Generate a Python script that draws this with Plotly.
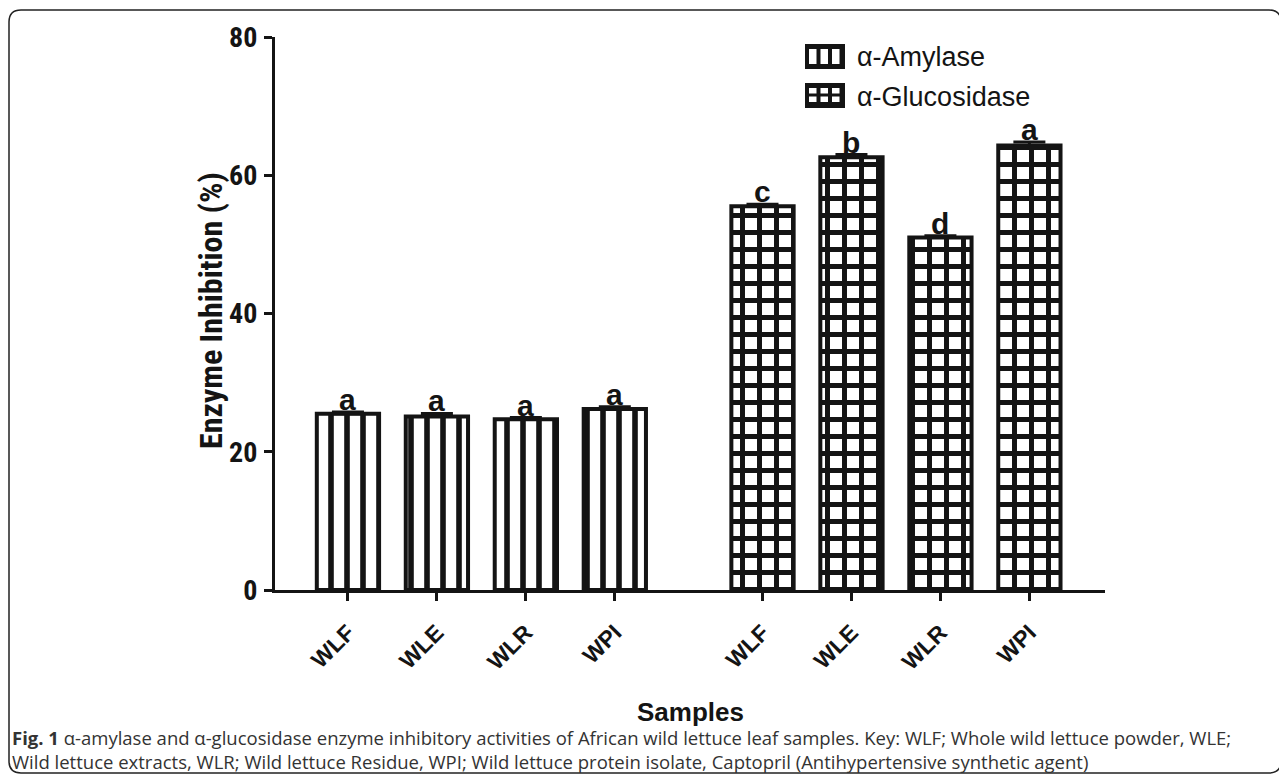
import plotly.graph_objects as go

# ---- data ----
samples = ["WLF", "WLE", "WLR", "WPI"]
amylase = [25.5, 25.1, 24.7, 26.2]
amylase_err = [0.25, 0.45, 0.25, 0.3]
amylase_letters = ["a", "a", "a", "a"]
glucosidase = [55.5, 62.6, 51.0, 64.3]
glucosidase_err = [0.3, 0.4, 0.25, 0.5]
glucosidase_letters = ["c", "b", "d", "a"]
series_names = ["α-Amylase", "α-Glucosidase"]
y_ticks = [0, 20, 40, 60, 80]

# ---- layout geometry (reference pixels) ----
W, H = 1287, 774
OFF = 8  # page body margin of the html page
L, R, T, B = 275, 1105, 37, 590
GAP = 1.66
x1 = [i for i in range(len(samples))]
x2 = [i + len(samples) - 1 + GAP for i in range(len(samples))]

def px(x):
    return (x - L) / (R - L)

def py(y):
    return (B - y) / (B - T)

INK = "#141414"
FONT = "Liberation Sans, Arial, Helvetica, sans-serif"
NARROW = "Liberation Sans Narrow, Arial Narrow, Roboto Condensed, sans-serif"

fig = go.Figure()
fig.add_trace(go.Bar(
    x=x1, y=amylase, name=series_names[0], width=0.7,
    marker=dict(color="white", line=dict(color=INK, width=4),
                pattern=dict(shape="|", fgcolor=INK, bgcolor="white", fgopacity=1,
                             size=16, solidity=0.35)),
    error_y=dict(type="data", array=amylase_err, color=INK, thickness=3, width=16, symmetric=False,
                 arrayminus=[0]*4),
    showlegend=False,
))
fig.add_trace(go.Bar(
    x=x2, y=glucosidase, name=series_names[1], width=0.7,
    marker=dict(color="white", line=dict(color=INK, width=4),
                pattern=dict(shape="+", fgcolor=INK, bgcolor="white", fgopacity=1,
                             size=17, solidity=0.5)),
    error_y=dict(type="data", array=glucosidase_err, color=INK, thickness=3, width=16, symmetric=False,
                 arrayminus=[0]*4),
    showlegend=False,
))

annotations = []
for xs, vals, errs, lets in [(x1, amylase, amylase_err, amylase_letters),
                             (x2, glucosidase, glucosidase_err, glucosidase_letters)]:
    for x, v, e, t in zip(xs, vals, errs, lets):
        annotations.append(dict(x=x, y=v + e, text=f"<b>{t}</b>", showarrow=False,
                                yanchor="bottom", yshift=-6,
                                font=dict(family=FONT, size=30, color=INK)))

# Axis titles
annotations.append(dict(xref="paper", yref="paper", x=px(690), y=py(712), yanchor="middle",
                        text="<b>Samples</b>",
                        showarrow=False, font=dict(family=FONT, size=26, color=INK)))
annotations.append(dict(xref="paper", yref="paper", x=px(211), y=py(311), xanchor="center",
                        yanchor="middle", textangle=-90,
                        text="<b>Enzyme Inhibition (%)</b>",
                        showarrow=False, font=dict(family=NARROW, size=32, color=INK)))

# Legend text
annotations.append(dict(xref="paper", yref="paper", x=px(855), y=py(57), xanchor="left", yanchor="middle",
                        text=series_names[0], showarrow=False,
                        font=dict(family=FONT, size=27, color=INK)))
annotations.append(dict(xref="paper", yref="paper", x=px(855), y=py(97), xanchor="left", yanchor="middle",
                        text=series_names[1], showarrow=False,
                        font=dict(family=FONT, size=27, color=INK)))

# Caption (two lines in one text block)
cap_font = "Open Sans, Noto Sans, sans-serif"
caption = ("<b>Fig. 1</b> α-amylase and α-glucosidase enzyme inhibitory activities of African wild lettuce leaf samples. Key: WLF; Whole wild lettuce powder, WLE;"
           "<br>Wild lettuce extracts, WLR; Wild lettuce Residue, WPI; Wild lettuce protein isolate, Captopril (Antihypertensive synthetic agent)")
annotations.append(dict(xref="paper", yref="paper", x=px(10), y=py(749), xanchor="left", yanchor="middle",
                        align="left", text=caption, showarrow=False,
                        font=dict(family=cap_font, size=18.5, color="#333333")))

shapes = []
# Legend icons
def rect(x0, y0, x1_, y1_, fill):
    return dict(type="rect", xref="paper", yref="paper", x0=px(x0), x1=px(x1_), y0=py(y1_), y1=py(y0),
                fillcolor=fill, line=dict(width=0), layer="above")

# Amylase icon
shapes.append(rect(805, 44, 845, 69, INK))
for i in range(3):
    xa = 809 + i * 11.5
    shapes.append(rect(xa, 49, xa + 7.5, 64, "white"))
# Glucosidase icon
shapes.append(rect(805, 83, 845, 108, INK))
for i in range(3):
    for j in range(2):
        xa = 809 + i * 11.5
        ya = 88 + j * 8.5
        shapes.append(rect(xa, ya, xa + 7.5, ya + 5.5, "white"))

# Border with rounded corners
bx0, by0, bx1, by1, r = 9, 10, 1281, 773, 12
def P(x, y):
    return f"{px(x):.5f},{py(y):.5f}"
path = (f"M {P(bx0, by0 + r)} Q {P(bx0, by0)} {P(bx0 + r, by0)} "
        f"L {P(bx1 - r, by0)} Q {P(bx1, by0)} {P(bx1, by0 + r)} "
        f"L {P(bx1, by1 - r)} Q {P(bx1, by1)} {P(bx1 - r, by1)} "
        f"L {P(bx0 + r, by1)} Q {P(bx0, by1)} {P(bx0, by1 - r)} Z")
shapes.append(dict(type="path", xref="paper", yref="paper", path=path,
                   line=dict(color="#222222", width=1.5)))

fig.update_layout(
    width=W - OFF, height=H - OFF,
    margin=dict(l=L - OFF, r=W - R, t=T - OFF, b=H - B, autoexpand=False),
    paper_bgcolor="white", plot_bgcolor="white",
    showlegend=False,
    annotations=annotations,
    shapes=shapes,
    xaxis=dict(range=[-0.82, 8.51], tickvals=x1 + x2, ticktext=[f"<b>{s}</b>" for s in samples + samples],
               tickangle=-45, ticks="outside", ticklen=8, tickwidth=3, tickcolor=INK,
               showline=True, linecolor=INK, linewidth=3, showgrid=False, zeroline=False,
               tickfont=dict(family=FONT, size=23, color=INK), ticklabelstandoff=9),
    yaxis=dict(range=[0, 80], tickvals=y_ticks, ticktext=[f"<b>{v}</b>" for v in y_ticks],
               ticks="outside", ticklen=8, tickwidth=3, tickcolor=INK,
               showline=True, linecolor=INK, linewidth=3, showgrid=False, zeroline=False,
               tickfont=dict(family=NARROW, size=28, color=INK), ticklabelstandoff=1),
)

fig.write_html("out.html")
